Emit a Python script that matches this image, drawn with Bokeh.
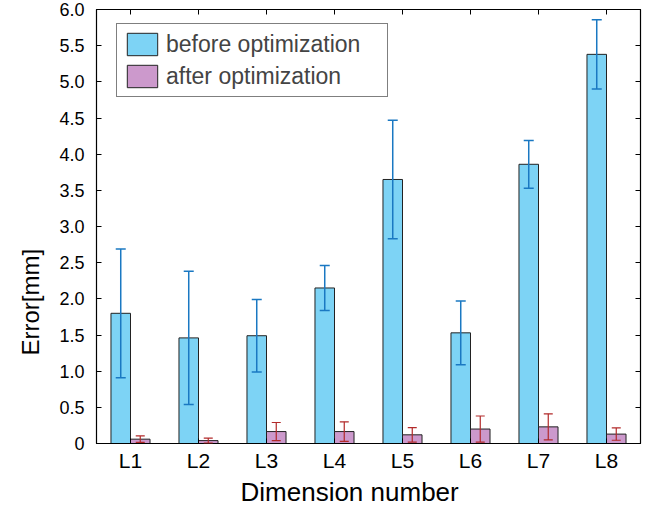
from bokeh.plotting import figure
from bokeh.models import (ColumnDataSource, FactorRange, Range1d, FixedTicker, LinearAxis,
                          CategoricalAxis, Whisker, Legend, LegendItem, Title)
from bokeh.transform import dodge
from bokeh.embed import file_html
from bokeh.resources import INLINE

categories = ["L1", "L2", "L3", "L4", "L5", "L6", "L7", "L8"]
before = [1.80, 1.46, 1.49, 2.15, 3.65, 1.53, 3.86, 5.38]
before_err = [0.89, 0.92, 0.50, 0.31, 0.82, 0.44, 0.33, 0.48]
after = [0.06, 0.04, 0.165, 0.165, 0.12, 0.20, 0.23, 0.13]
after_err = [0.045, 0.035, 0.125, 0.135, 0.10, 0.18, 0.18, 0.085]
y_ticks = [0, 0.5, 1.0, 1.5, 2.0, 2.5, 3.0, 3.5, 4.0, 4.5, 5.0, 5.5, 6.0]
y_tick_labels = ["0", "0.5", "1.0", "1.5", "2.0", "2.5", "3.0", "3.5", "4.0", "4.5", "5.0", "5.5", "6.0"]

src = ColumnDataSource(dict(
    cat=categories, before=before, after=after,
    b_lo=[v - e for v, e in zip(before, before_err)],
    b_hi=[v + e for v, e in zip(before, before_err)],
    a_lo=[v - e for v, e in zip(after, after_err)],
    a_hi=[v + e for v, e in zip(after, after_err)],
))

FONT = "Liberation Sans"
p = figure(width=645, height=506, x_range=FactorRange(*categories, range_padding=0),
           y_range=Range1d(0, 6.0), output_backend="svg", toolbar_location=None,
           min_border_left=96, min_border_right=5, min_border_top=9, min_border_bottom=62)
p.grid.visible = False
p.outline_line_color = "black"
p.outline_line_width = 1.2

bw = 0.287
r1 = p.vbar(x=dodge("cat", -bw / 2, range=p.x_range), top="before", width=bw, source=src,
            fill_color="#7dd3f5", line_color="#222222", line_width=1)
r2 = p.vbar(x=dodge("cat", bw / 2, range=p.x_range), top="after", width=bw, source=src,
            fill_color="#cc99cc", line_color="#222222", line_width=1)

w1 = Whisker(base=dodge("cat", -bw / 2, range=p.x_range), lower="b_lo", upper="b_hi", source=src,
             line_color="#1a78c2", line_width=1.5, level="overlay")
w2 = Whisker(base=dodge("cat", bw / 2, range=p.x_range), lower="a_lo", upper="a_hi", source=src,
             line_color="#b22a2a", line_width=1.2, level="overlay")
for w, size, col, lw in ((w1, 10, "#1a78c2", 1.5), (w2, 9, "#b22a2a", 1.2)):
    for h in (w.upper_head, w.lower_head):
        h.size = size
        h.line_color = col
        h.line_width = lw
    p.add_layout(w)

# axes
p.yaxis.ticker = FixedTicker(ticks=y_ticks)
p.yaxis.major_label_overrides = {t: l for t, l in zip(y_ticks, y_tick_labels)}
for ax in (p.xaxis[0], p.yaxis[0]):
    ax.major_tick_in = 5
    ax.major_tick_out = 0
    ax.minor_tick_in = 0
    ax.minor_tick_out = 0
    ax.axis_line_color = "black"
    ax.major_tick_line_color = "black"
    ax.major_label_text_font = FONT
    ax.major_label_text_color = "black"
p.yaxis.major_label_text_font_size = "18px"
p.xaxis.major_label_text_font_size = "21px"
p.yaxis.major_label_standoff = 12
p.xaxis.major_label_standoff = 5

ra = LinearAxis(ticker=FixedTicker(ticks=y_ticks), major_label_text_font_size="0px",
                major_label_overrides={t: "" for t in y_ticks},
                major_tick_in=5, major_tick_out=0, minor_tick_in=0, minor_tick_out=0,
                major_label_standoff=0)
p.add_layout(ra, "right")
ta = CategoricalAxis(major_label_text_font_size="0px", major_tick_in=5, major_tick_out=0,
                     major_label_overrides={c: "" for c in categories},
                     major_label_standoff=0)
p.add_layout(ta, "above")

# axis titles (placed like the reference, off-centre)
ytitle = Title(text="Error[mm]", align="left", offset=88, standoff=26,
               text_font=FONT, text_font_size="24px", text_font_style="normal", text_color="black")
p.add_layout(ytitle, "left")
xtitle = Title(text="Dimension number", align="left", offset=144, standoff=0,
               text_font=FONT, text_font_size="26px", text_font_style="normal", text_color="black")
p.add_layout(xtitle, "below")

legend = Legend(items=[LegendItem(label="before optimization", renderers=[r1]),
                       LegendItem(label="after optimization", renderers=[r2])],
                location=(20, 346), margin=0, padding=6, spacing=4,
                glyph_width=38, glyph_height=28, label_standoff=5, label_width=215,
                label_text_font=FONT, label_text_font_size="23px",
                border_line_color="black", border_line_width=1.2)
p.add_layout(legend)

open("out.html", "w").write(file_html(p, INLINE))
